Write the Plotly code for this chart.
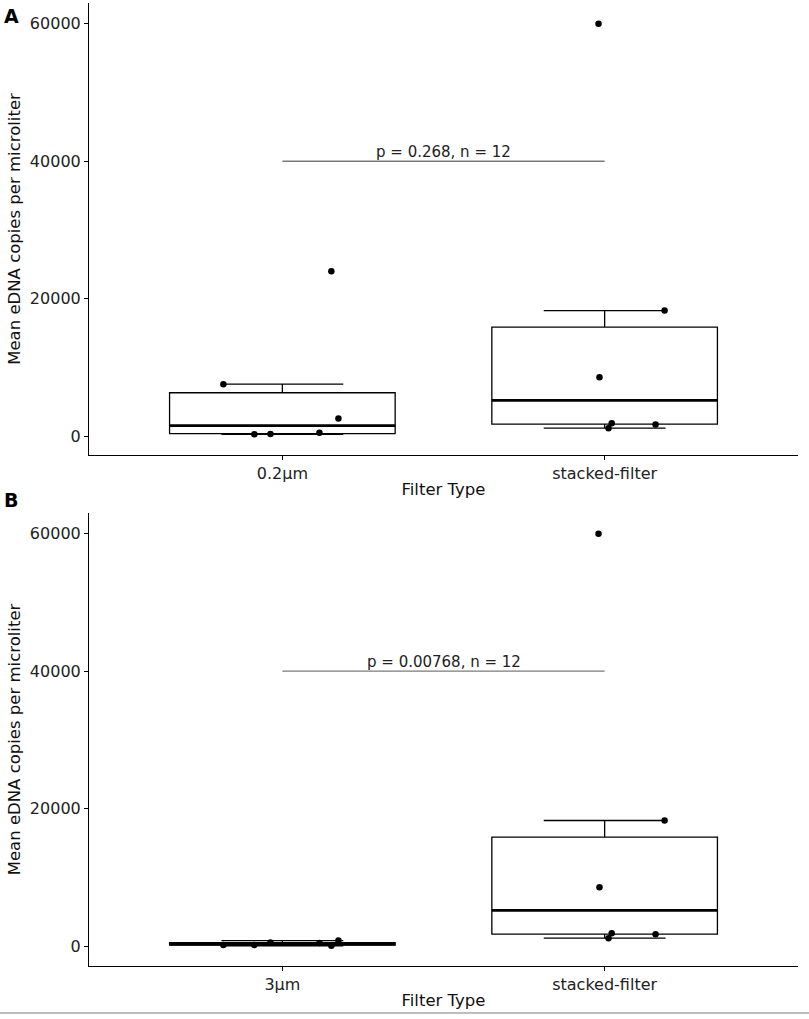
import numpy as np
import plotly.graph_objects as go

# ---------------- data ----------------
categories_A = ["0.2µm", "stacked-filter"]
categories_B = ["3µm", "stacked-filter"]

vals_02um = [7600, 300, 350, 550, 24000, 2600]
vals_3um = [200, 200, 550, 500, 80, 850]
vals_stacked = [60000, 8600, 1200, 1900, 1750, 18300]

# horizontal jitter (in category units) of the plotted points
jitter_first = [-0.183, -0.087, -0.037, 0.115, 0.152, 0.174]
jitter_stacked = [-0.019, -0.016, 0.012, 0.022, 0.158, 0.186]

y_ticks = [0, 20000, 40000, 60000]
p_label_A = "p = 0.268, n = 12"
p_label_B = "p = 0.00768, n = 12"
bracket_y = 40000

# ---------------- layout helpers ----------------
W, H = 809, 1019
ML, MR, MT, MB = 89, 11, 3, 53
PW, PH = W - ML - MR, H - MT - MB


def py(pix):  # page pixel y -> paper fraction
    return (H - MB - pix) / PH


def px(pix):
    return (pix - ML) / PW


FONT = "DejaVu Sans"
BOX_W = 0.70

fig = go.Figure()


def stats(v):
    a = np.array(v, dtype=float)
    q1, med, q3 = np.percentile(a, [25, 50, 75])
    iqr = q3 - q1
    lo = a[a >= q1 - 1.5 * iqr].min()
    hi = a[a <= q3 + 1.5 * iqr].max()
    return q1, med, q3, lo, hi


def add_group(vals, jit, pos, xa, ya):
    q1, med, q3, lo, hi = stats(vals)
    fig.add_trace(go.Box(
        x=[pos], q1=[q1], median=[med], q3=[q3], lowerfence=[lo], upperfence=[hi],
        width=BOX_W, whiskerwidth=0.54, boxpoints=False,
        fillcolor="white", line=dict(color="black", width=1.3),
        xaxis=xa, yaxis=ya, showlegend=False, hoverinfo="skip"))
    fig.add_trace(go.Scatter(
        x=[pos - BOX_W / 2, pos + BOX_W / 2], y=[med, med], mode="lines",
        line=dict(color="black", width=2.8), xaxis=xa, yaxis=ya,
        showlegend=False, hoverinfo="skip"))
    fig.add_trace(go.Scatter(
        x=[pos + j for j in jit], y=vals, mode="markers",
        marker=dict(color="black", size=6.5), xaxis=xa, yaxis=ya,
        showlegend=False))


def add_panel(first_vals, xa, ya, label):
    add_group(first_vals, jitter_first, 1, xa, ya)
    add_group(vals_stacked, jitter_stacked, 2, xa, ya)
    fig.add_trace(go.Scatter(
        x=[1, 2], y=[bracket_y, bracket_y], mode="lines",
        line=dict(color="#7a7a7a", width=1.3), xaxis=xa, yaxis=ya,
        showlegend=False, hoverinfo="skip"))
    fig.add_annotation(x=1.5, y=bracket_y, xref=xa, yref=ya, text=label,
                       showarrow=False, yanchor="bottom", yshift=-2,
                       font=dict(family=FONT, size=15, color="#222"))


add_panel(vals_02um, "x", "y", p_label_A)
add_panel(vals_3um, "x2", "y2", p_label_B)

axis_common = dict(showgrid=False, zeroline=False, showline=True,
                   linecolor="black", linewidth=1.1, ticks="outside",
                   ticklen=4, tickcolor="black", tickwidth=1.1,
                   tickfont=dict(family=FONT, size=16, color="#222"))

for i, (cats, ylo) in enumerate([(categories_A, -2700), (categories_B, -2850)]):
    sfx = "" if i == 0 else "2"
    dom = [py(455), py(3)] if i == 0 else [py(966), py(513)]
    fig.update_layout(**{
        "xaxis" + sfx: dict(axis_common, range=[0.4, 2.6], tickvals=[1, 2],
                            ticktext=cats, anchor="y" + sfx, domain=[0, 1],
                            title=dict(text="Filter Type", standoff=1,
                                       font=dict(family=FONT, size=16.5, color="#111"))),
        "yaxis" + sfx: dict(axis_common, range=[ylo, 63000], tickvals=y_ticks,
                            ticktext=[str(t) for t in y_ticks], anchor="x" + sfx,
                            domain=dom,
                            title=dict(text="Mean eDNA copies per microliter", standoff=5,
                                       font=dict(family=FONT, size=16.5, color="#111"))),
    })

fig.add_annotation(text="<b>A</b>", xref="paper", yref="paper", x=px(2), y=py(3),
                   xanchor="left", yanchor="top", showarrow=False,
                   font=dict(family=FONT, size=19, color="black"))
fig.add_annotation(text="<b>B</b>", xref="paper", yref="paper", x=px(2), y=py(487),
                   xanchor="left", yanchor="top", showarrow=False,
                   font=dict(family=FONT, size=19, color="black"))

fig.add_shape(type="line", xref="paper", yref="paper", x0=px(0), x1=px(W),
              y0=py(1013), y1=py(1013), line=dict(color="#bdbdbd", width=2))

fig.update_layout(width=W, height=H, margin=dict(l=ML, r=MR, t=MT, b=MB),
                  plot_bgcolor="white", paper_bgcolor="white", showlegend=False,
                  boxmode="overlay", font=dict(family=FONT))

fig.write_html("out.html", config={"displayModeBar": False},
               post_script="document.body.style.margin='0';")
